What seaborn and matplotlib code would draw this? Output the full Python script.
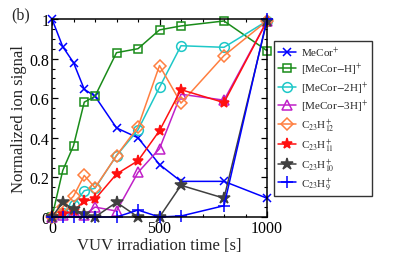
import matplotlib
matplotlib.use("Agg")
import matplotlib.pyplot as plt
import seaborn as sns
import numpy as np
from matplotlib.ticker import MultipleLocator

sns.set_theme(style="ticks")
plt.rcParams['font.family'] = ['Liberation Serif', 'DejaVu Serif']
plt.rcParams['mathtext.fontset'] = 'stix'

time = [0, 50, 100, 150, 200, 300, 400, 500, 600, 800, 1000]

mecor = [1.0, 0.86, 0.78, 0.645, 0.61, 0.45, 0.40, 0.265, 0.18, 0.18, 0.095]
mecor_h = [0.0, 0.235, 0.36, 0.58, 0.61, 0.83, 0.85, 0.945, 0.965, 0.99, 0.84]
mecor_2h = [0.0, 0.02, 0.06, 0.133, 0.145, 0.31, 0.44, 0.655, 0.865, 0.857, 0.99]
mecor_3h = [0.0, 0.01, 0.03, 0.01, 0.05, 0.03, 0.225, 0.345, 0.62, 0.59, 0.99]
c23h12 = [0.0, 0.05, 0.105, 0.21, 0.148, 0.31, 0.455, 0.765, 0.575, 0.815, 0.99]
c23h11 = [0.0, 0.015, 0.03, 0.08, 0.09, 0.217, 0.284, 0.436, 0.643, 0.578, 0.99]
c23h10 = [0.0, 0.074, 0.04, 0.015, 0.0, 0.074, 0.0, 0.0, 0.16, 0.095, 0.99]
c23h9 = [0.0, 0.0, 0.0, 0.0, 0.0, 0.0, 0.035, 0.0, 0.005, 0.057, 1.0]

labels = ['MeCor$^{+}$', '[MeCor$-$H]$^{+}$', '[MeCor$-$2H]$^{+}$', '[MeCor$-$3H]$^{+}$',
          'C$_{23}$H$_{12}^{+}$', 'C$_{23}$H$_{11}^{+}$', 'C$_{23}$H$_{10}^{+}$', 'C$_{23}$H$_{9}^{+}$']
series = [mecor, mecor_h, mecor_2h, mecor_3h, c23h12, c23h11, c23h10, c23h9]
colors = ['#0000ff', '#1a8c1a', '#1ec8c8', '#c020c8', '#ff7f40', '#ff1010', '#404040', '#0000ff']
markers = ['x', 's', 'o', '^', 'D', '*', '*', '+']
filled = [True, False, False, False, False, True, True, True]
msizes = [6, 6, 7, 7, 6, 8, 9, 9]

fig = plt.figure(figsize=(4.07, 2.55), dpi=100)
ax = fig.add_axes([52/407, 1 - 218/255, (267-52)/407, (218-20)/255])

for vals, lab, c, m, f, ms in zip(series, labels, colors, markers, filled, msizes):
    kw = dict(markerfacecolor=c if f else 'none', markeredgecolor=c,
              markersize=ms, markeredgewidth=1.1)
    sns.lineplot(x=time, y=vals, ax=ax, color=c, marker=m, label=lab,
                 linewidth=1.1, clip_on=False, **kw)

ax.set_xlim(0, 1000)
ax.set_ylim(0, 1)
ax.xaxis.set_minor_locator(MultipleLocator(100))
ax.yaxis.set_minor_locator(MultipleLocator(0.05))
ax.set_yticks([0, 0.2, 0.4, 0.6, 0.8, 1.0])
ax.set_yticklabels(['0', '0.2', '0.4', '0.6', '0.8', '1'])
ax.set_xticks([0, 500, 1000])
ax.set_xticklabels(['0', '500', '1000'])
ax.tick_params(which='both', direction='in', top=True, right=True, labelsize=11.5, colors='black', pad=2)
ax.tick_params(which='major', length=4, width=0.9)
ax.tick_params(which='minor', length=2, width=0.8)
for sp in ax.spines.values():
    sp.set_color('black')
    sp.set_linewidth(1.1)

ax.set_xlabel('VUV irradiation time [s]', fontsize=12, labelpad=1)
ax.set_ylabel('Normalized ion signal', fontsize=12, labelpad=2)

h, l = ax.get_legend_handles_labels()
ax.get_legend().remove()
leg = fig.legend(h, l, loc='upper left', bbox_to_anchor=(274/407, 1 - 42/255),
                 fontsize=8, frameon=True, fancybox=False, borderaxespad=0,
                 handlelength=1.6, labelspacing=0.18, borderpad=0.35, handletextpad=0.5)
leg.get_frame().set_edgecolor('black')
leg.get_frame().set_linewidth(1.0)

fig.text(21/407, 1 - 15/255, '(b)', fontsize=11.5, ha='center', va='center')

fig.savefig('out.png', dpi=100)
